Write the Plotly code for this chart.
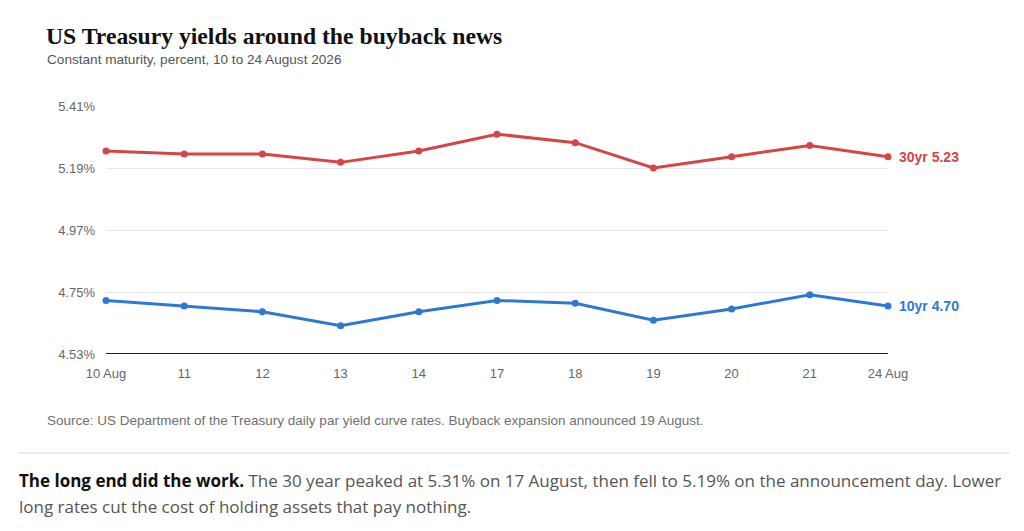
import plotly.graph_objects as go

days = ["10 Aug", "11", "12", "13", "14", "17", "18", "19", "20", "21", "24 Aug"]
yield_30yr = [5.25, 5.24, 5.24, 5.21, 5.25, 5.31, 5.28, 5.19, 5.23, 5.27, 5.23]
yield_10yr = [4.72, 4.70, 4.68, 4.63, 4.68, 4.72, 4.71, 4.65, 4.69, 4.74, 4.70]
y_ticks = [4.53, 4.75, 4.97, 5.19, 5.41]

RED = "#d64545"
BLUE = "#2f78d2"

W, H = 1024, 531
L, R, T, B = 106, 136, 106, 177


def px(x):
    return (x - L) / (W - L - R)


def py(y):
    return (H - B - y) / (H - T - B)


fig = go.Figure()
for vals, color, name in [(yield_30yr, RED, "30yr"), (yield_10yr, BLUE, "10yr")]:
    fig.add_trace(go.Scatter(
        x=days, y=vals, mode="lines+markers", name=name,
        line=dict(color=color, width=3),
        marker=dict(color=color, size=7),
        cliponaxis=False,
    ))
    fig.add_annotation(
        x=days[-1], y=vals[-1], xref="x", yref="y",
        text=f"<b>{name} {vals[-1]:.2f}</b>", showarrow=False,
        xanchor="left", xshift=9,
        font=dict(family="Liberation Sans, Arial", size=14, color=color),
    )

fig.update_xaxes(
    type="category", range=[0, len(days) - 1],
    showgrid=False, showline=False, zeroline=False,
    ticks="", ticklabelstandoff=10,
    tickfont=dict(family="Liberation Sans, Arial", size=13, color="#666"),
)
fig.update_yaxes(
    range=[y_ticks[0], y_ticks[-1]], tickvals=y_ticks,
    ticktext=[f"{v:.2f}%" for v in y_ticks],
    showgrid=True, gridcolor="#e8e8e8", gridwidth=1,
    zeroline=False, showline=False, ticks="", ticklabelstandoff=10,
    tickfont=dict(family="Liberation Sans, Arial", size=13, color="#666"),
)

# dark baseline along the bottom of the plot
fig.add_shape(type="line", xref="paper", yref="y", x0=0, x1=1,
              y0=y_ticks[0], y1=y_ticks[0], line=dict(color="#222", width=2))
# separator between chart and text
fig.add_shape(type="line", xref="paper", yref="paper", x0=px(18), x1=px(1010),
              y0=py(453), y1=py(453), line=dict(color="#e6e6e6", width=1.5))

fig.add_annotation(
    x=px(44), y=py(36), xref="paper", yref="paper", showarrow=False,
    xanchor="left", yanchor="middle",
    text="<b>US Treasury yields around the buyback news</b>",
    font=dict(family="Liberation Serif, Georgia, serif", size=23.7, color="#111"),
)
fig.add_annotation(
    x=px(45), y=py(60), xref="paper", yref="paper", showarrow=False,
    xanchor="left", yanchor="middle",
    text="Constant maturity, percent, 10 to 24 August 2026",
    font=dict(family="Liberation Sans, Arial", size=13.6, color="#555"),
)
fig.add_annotation(
    x=px(45), y=py(420), xref="paper", yref="paper", showarrow=False,
    xanchor="left", yanchor="middle",
    text="Source: US Department of the Treasury daily par yield curve rates. Buyback expansion announced 19 August.",
    font=dict(family="Liberation Sans, Arial", size=13.5, color="#707070"),
)
fig.add_annotation(
    x=px(17), y=py(480), xref="paper", yref="paper", showarrow=False,
    xanchor="left", yanchor="middle",
    text="<span style='color:#111'><b>The long end did the work.</b></span> The 30 year peaked at 5.31% on 17 August, then fell to 5.19% on the announcement day. Lower",
    font=dict(family="Open Sans", size=17, color="#555"),
)
fig.add_annotation(
    x=px(17), y=py(506), xref="paper", yref="paper", showarrow=False,
    xanchor="left", yanchor="middle",
    text="long rates cut the cost of holding assets that pay nothing.",
    font=dict(family="Open Sans", size=17, color="#555"),
)

fig.update_layout(
    width=W, height=H, margin=dict(l=L, r=R, t=T, b=B),
    paper_bgcolor="white", plot_bgcolor="white", showlegend=False,
)

fig.write_html("out.html", config={"displayModeBar": False},
               post_script="document.body.style.margin='0';")
